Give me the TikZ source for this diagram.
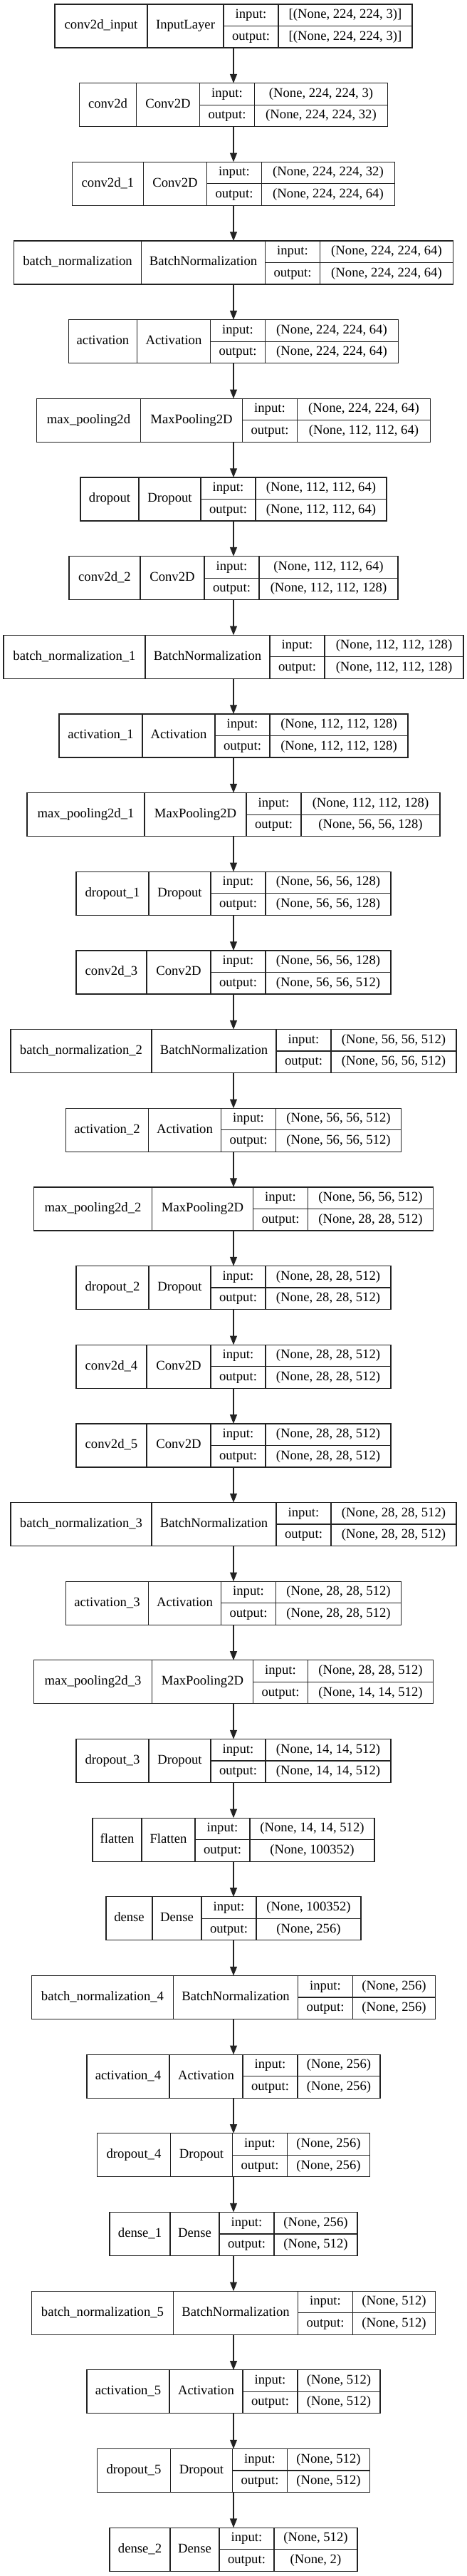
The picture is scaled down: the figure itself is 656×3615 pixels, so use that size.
\documentclass[tikz,border=0pt]{standalone}
\usepackage{fontspec}
\setmainfont{Liberation Serif}
\usetikzlibrary{arrows.meta, positioning, fit}
\definecolor{edgecolor}{RGB}{34, 34, 34}

% one pixel of the layout
\newcommand{\px}{0.75pt}

% one Keras layer: name | class | input:/output: | shapes
% #1 node, #2 row, #3 name, #4 width, #5 class, #6 width, #7 input, #8 output, #9 width
\newcommand{\kerasLayer}[9]{%
  \pgfmathsetmacro{\boxleft}{328-(#4+#6+77+#9)/2}%
  \pgfmathsetmacro{\boxtop}{6+#2*110.66}%
  \node[namecell, minimum width=#4*\px, anchor=north west] (#1-name) at (\boxleft, \boxtop) {#3};
  \node[namecell, minimum width=#6*\px, right=0pt of #1-name] (#1-class) {#5};
  \node[iocell, minimum width=77*\px, anchor=north west] (#1-in) at (#1-class.north east) {input:};
  \node[iocell, minimum width=77*\px, below=0pt of #1-in] (#1-out) {output:};
  \node[iocell, minimum width=#9*\px, right=0pt of #1-in] (#1-inshape) {#7};
  \node[iocell, minimum width=#9*\px, right=0pt of #1-out] (#1-outshape) {#8};
  \node[fit=(#1-name)(#1-outshape), inner sep=0pt, outer sep=0pt] (#1) {};
}

\begin{document}
\begin{tikzpicture}[
    x=0.75pt, y=-0.75pt,
    namecell/.style={
        draw=edgecolor,
        line width=0.9pt,
        rectangle,
        inner sep=0pt,
        outer sep=0pt,
        minimum height=61*\px,
        text height=9.8pt,
        text depth=3.2pt,
        font=\fontsize{14}{16}\selectfont
    },
    iocell/.style={
        namecell,
        minimum height=30.5*\px
    },
    flow/.style={
        -{Triangle[length=9.5pt, width=7.5pt]},
        draw=edgecolor,
        line width=0.8pt
    }
]

\useasboundingbox (0, 0) rectangle (656, 3615);

% ==================== FEATURE EXTRACTOR ====================
\kerasLayer{inp}{0}{conv2d\_input}{130}{InputLayer}{107}{[(None, 224, 224, 3)]}{[(None, 224, 224, 3)]}{188}
\kerasLayer{conv0}{1}{conv2d}{80}{Conv2D}{89}{(None, 224, 224, 3)}{(None, 224, 224, 32)}{187}
\kerasLayer{conv1}{2}{conv2d\_1}{100}{Conv2D}{89}{(None, 224, 224, 32)}{(None, 224, 224, 64)}{187}
\kerasLayer{bn0}{3}{batch\_normalization}{179}{BatchNormalization}{174}{(None, 224, 224, 64)}{(None, 224, 224, 64)}{187}
\kerasLayer{act0}{4}{activation}{96}{Activation}{103}{(None, 224, 224, 64)}{(None, 224, 224, 64)}{187}
\kerasLayer{pool0}{5}{max\_pooling2d}{146}{MaxPooling2D}{143}{(None, 224, 224, 64)}{(None, 112, 112, 64)}{187}
\kerasLayer{drop0}{6}{dropout}{82}{Dropout}{87}{(None, 112, 112, 64)}{(None, 112, 112, 64)}{184}
\kerasLayer{conv2}{7}{conv2d\_2}{100}{Conv2D}{90}{(None, 112, 112, 64)}{(None, 112, 112, 128)}{195}
\kerasLayer{bn1}{8}{batch\_normalization\_1}{199}{BatchNormalization}{175}{(None, 112, 112, 128)}{(None, 112, 112, 128)}{195}
\kerasLayer{act1}{9}{activation\_1}{117}{Activation}{102}{(None, 112, 112, 128)}{(None, 112, 112, 128)}{194}
\kerasLayer{pool1}{10}{max\_pooling2d\_1}{165}{MaxPooling2D}{143}{(None, 112, 112, 128)}{(None, 56, 56, 128)}{195}
\kerasLayer{drop1}{11}{dropout\_1}{102}{Dropout}{87}{(None, 56, 56, 128)}{(None, 56, 56, 128)}{176}
\kerasLayer{conv3}{12}{conv2d\_3}{99}{Conv2D}{90}{(None, 56, 56, 128)}{(None, 56, 56, 512)}{176}
\kerasLayer{bn2}{13}{batch\_normalization\_2}{198}{BatchNormalization}{175}{(None, 56, 56, 512)}{(None, 56, 56, 512)}{176}
\kerasLayer{act2}{14}{activation\_2}{116}{Activation}{102}{(None, 56, 56, 512)}{(None, 56, 56, 512)}{176}
\kerasLayer{pool2}{15}{max\_pooling2d\_2}{166}{MaxPooling2D}{142}{(None, 56, 56, 512)}{(None, 28, 28, 512)}{176}
\kerasLayer{drop2}{16}{dropout\_2}{102}{Dropout}{87}{(None, 28, 28, 512)}{(None, 28, 28, 512)}{176}
\kerasLayer{conv4}{17}{conv2d\_4}{99}{Conv2D}{90}{(None, 28, 28, 512)}{(None, 28, 28, 512)}{176}
\kerasLayer{conv5}{18}{conv2d\_5}{99}{Conv2D}{90}{(None, 28, 28, 512)}{(None, 28, 28, 512)}{176}
\kerasLayer{bn3}{19}{batch\_normalization\_3}{198}{BatchNormalization}{175}{(None, 28, 28, 512)}{(None, 28, 28, 512)}{176}
\kerasLayer{act3}{20}{activation\_3}{116}{Activation}{102}{(None, 28, 28, 512)}{(None, 28, 28, 512)}{176}
\kerasLayer{pool3}{21}{max\_pooling2d\_3}{166}{MaxPooling2D}{142}{(None, 28, 28, 512)}{(None, 14, 14, 512)}{176}
\kerasLayer{drop3}{22}{dropout\_3}{102}{Dropout}{87}{(None, 14, 14, 512)}{(None, 14, 14, 512)}{176}

% ==================== CLASSIFIER HEAD ====================
\kerasLayer{flat}{23}{flatten}{69}{Flatten}{75}{(None, 14, 14, 512)}{(None, 100352)}{175}
\kerasLayer{dense0}{24}{dense}{65}{Dense}{69}{(None, 100352)}{(None, 256)}{147}
\kerasLayer{bn4}{25}{batch\_normalization\_4}{199}{BatchNormalization}{175}{(None, 256)}{(None, 256)}{116}
\kerasLayer{act4}{26}{activation\_4}{116}{Activation}{103}{(None, 256)}{(None, 256)}{116}
\kerasLayer{drop4}{27}{dropout\_4}{103}{Dropout}{87}{(None, 256)}{(None, 256)}{116}
\kerasLayer{dense1}{28}{dense\_1}{85}{Dense}{69}{(None, 256)}{(None, 512)}{117}
\kerasLayer{bn5}{29}{batch\_normalization\_5}{199}{BatchNormalization}{175}{(None, 512)}{(None, 512)}{116}
\kerasLayer{act5}{30}{activation\_5}{116}{Activation}{103}{(None, 512)}{(None, 512)}{116}
\kerasLayer{drop5}{31}{dropout\_5}{103}{Dropout}{87}{(None, 512)}{(None, 512)}{116}
\kerasLayer{dense2}{32}{dense\_2}{85}{Dense}{69}{(None, 512)}{(None, 2)}{117}

% ==================== DATA FLOW ====================
\foreach \from/\to in {inp/conv0, conv0/conv1, conv1/bn0, bn0/act0, act0/pool0, pool0/drop0,
    drop0/conv2, conv2/bn1, bn1/act1, act1/pool1, pool1/drop1, drop1/conv3, conv3/bn2,
    bn2/act2, act2/pool2, pool2/drop2, drop2/conv4, conv4/conv5, conv5/bn3, bn3/act3,
    act3/pool3, pool3/drop3, drop3/flat, flat/dense0, dense0/bn4, bn4/act4, act4/drop4,
    drop4/dense1, dense1/bn5, bn5/act5, act5/drop5, drop5/dense2}
    \draw[flow] (\from) -- (\to);

\end{tikzpicture}
\end{document}
